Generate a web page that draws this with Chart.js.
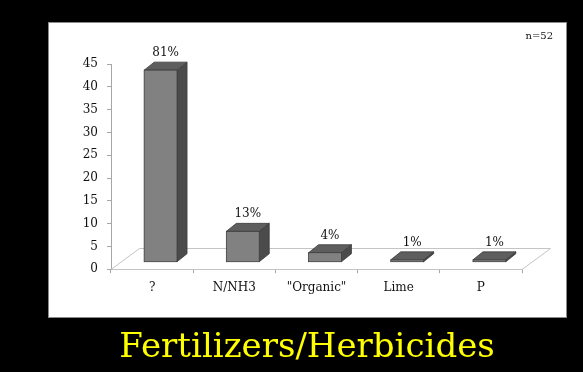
<!DOCTYPE html>
<html>
<head>
<meta charset="utf-8">
<title>Fertilizers/Herbicides</title>
<script src="https://cdn.jsdelivr.net/npm/chart.js@4/dist/chart.umd.min.js"></script>
<style>
  html, body { margin: 0; padding: 0; background: #000; }
  #wrap { width: 583px; height: 372px; position: relative; }
</style>
</head>
<body>
<div id="wrap"><canvas id="fertChart"></canvas></div>
<script>
// survey answers
const TOTAL_N = 52;
const categories = ["?", "N/NH3", "\"Organic\"", "Lime", "P"];
const percents = [81, 13, 4, 1, 1];
const yTicks = [0, 5, 10, 15, 20, 25, 30, 35, 40, 45];

// bar height = share of respondents
const counts = percents.map((p) => (p * TOTAL_N) / 100);

// 3D look
const BAR_SHIFT = { x: 8.5, y: -7 };   // bar sits a bit back on the floor
const BAR_DEPTH = { x: 10, y: -8 };
const FLOOR_DEPTH = { x: 28.5, y: -21 };
const COLORS = {
  front: "#818181",
  side: "#4b4b4b",
  top: "#5e5e5e",
  edge: "#3c3c3c",
  floor: "#c4c4c4",
  axis: "#a6a6a6"
};
const SERIF = "'DejaVu Serif', 'Liberation Serif', serif";

const fake3d = {
  id: "fake3d",
  beforeDraw(chart) {
    const { ctx, width, height } = chart;
    ctx.save();
    ctx.fillStyle = "#000";
    ctx.fillRect(0, 0, width, height);
    ctx.fillStyle = "#fff";
    ctx.fillRect(48, 22, 519, 296);
    ctx.strokeStyle = "#8a8a8a";
    ctx.lineWidth = 1;
    ctx.strokeRect(48.5, 22.5, 518, 295);
    ctx.restore();
  },
  beforeDatasetsDraw(chart) {
    const { ctx, scales } = chart;
    const y0 = Math.round(scales.y.getPixelForValue(0)) + 0.5;
    const l = scales.x.left, r = scales.x.right;
    ctx.save();
    ctx.strokeStyle = COLORS.floor;
    ctx.lineWidth = 1;
    ctx.beginPath();
    ctx.moveTo(l, y0);
    ctx.lineTo(l + FLOOR_DEPTH.x, y0 + FLOOR_DEPTH.y);
    ctx.lineTo(r + FLOOR_DEPTH.x, y0 + FLOOR_DEPTH.y);
    ctx.lineTo(r, y0);
    ctx.stroke();
    ctx.restore();
  },
  afterDatasetsDraw(chart) {
    const { ctx } = chart;
    const meta = chart.getDatasetMeta(0);
    ctx.save();
    ctx.lineWidth = 0.8;
    ctx.strokeStyle = COLORS.edge;
    meta.data.forEach((bar, i) => {
      const p = bar.getProps(["x", "y", "base", "width"], true);
      const left = p.x - p.width / 2 + BAR_SHIFT.x;
      const right = p.x + p.width / 2 + BAR_SHIFT.x;
      const top = p.y + BAR_SHIFT.y;
      const bottom = p.base + BAR_SHIFT.y;
      const dx = BAR_DEPTH.x, dy = BAR_DEPTH.y;

      // side
      ctx.fillStyle = COLORS.side;
      ctx.beginPath();
      ctx.moveTo(right, top);
      ctx.lineTo(right + dx, top + dy);
      ctx.lineTo(right + dx, bottom + dy);
      ctx.lineTo(right, bottom);
      ctx.closePath();
      ctx.fill();
      ctx.stroke();

      // top
      ctx.fillStyle = COLORS.top;
      ctx.beginPath();
      ctx.moveTo(left, top);
      ctx.lineTo(left + dx, top + dy);
      ctx.lineTo(right + dx, top + dy);
      ctx.lineTo(right, top);
      ctx.closePath();
      ctx.fill();
      ctx.stroke();

      // front
      ctx.fillStyle = COLORS.front;
      ctx.fillRect(left, top, right - left, bottom - top);
      ctx.strokeRect(left, top, right - left, bottom - top);

      // value label
      ctx.fillStyle = "#111";
      ctx.font = "12px " + SERIF;
      ctx.textAlign = "center";
      ctx.textBaseline = "bottom";
      ctx.fillText(percents[i] + "%", (left + right) / 2 + dx / 2, top + dy - 3);
    });
    ctx.restore();
  },
  afterDraw(chart) {
    const { ctx } = chart;
    ctx.save();
    ctx.fillStyle = "#111";
    ctx.font = "10px " + SERIF;
    ctx.textAlign = "right";
    ctx.textBaseline = "middle";
    ctx.fillText("n=" + TOTAL_N, 553, 36);
    ctx.restore();
  }
};

new Chart(document.getElementById("fertChart"), {
  type: "bar",
  data: {
    labels: categories,
    datasets: [{
      data: counts,
      backgroundColor: "rgba(0,0,0,0)",
      borderWidth: 0,
      categoryPercentage: 1,
      barPercentage: 0.4
    }]
  },
  options: {
    responsive: true,
    maintainAspectRatio: false,
    animation: false,
    // left padding + empty right axis keep the title centred under the panel
    layout: { padding: { top: 64, left: 31, right: 0, bottom: 0 } },
    plugins: {
      legend: { display: false },
      tooltip: { enabled: false },
      title: {
        display: true,
        position: "bottom",
        text: "Fertilizers/Herbicides",
        color: "#ffff00",
        font: { family: SERIF, size: 34, weight: "normal" },
        padding: { top: 12, bottom: 3 }
      }
    },
    scales: {
      x: {
        afterFit: (scale) => { scale.height = 47; },
        border: { color: COLORS.floor },
        grid: {
          offset: true,
          drawOnChartArea: false,
          tickLength: 4,
          color: COLORS.axis
        },
        ticks: {
          color: "#111",
          padding: 7,
          font: { family: SERIF, size: 12 }
        }
      },
      y: {
        min: 0,
        max: 45,
        afterFit: (scale) => { scale.width = 80; },
        afterBuildTicks: (scale) => {
          scale.ticks = yTicks.map((v) => ({ value: v }));
        },
        border: { color: COLORS.axis },
        grid: {
          drawOnChartArea: false,
          tickLength: 4,
          color: COLORS.axis
        },
        ticks: {
          color: "#111",
          padding: 9,
          font: { family: SERIF, size: 12 }
        }
      },
      // room on the right for the floor's back corner
      spacer: {
        type: "linear",
        position: "right",
        afterFit: (scale) => { scale.width = 61; },
        grid: { display: false },
        border: { display: false },
        ticks: { display: false }
      }
    }
  },
  plugins: [fake3d]
});
</script>
</body>
</html>
